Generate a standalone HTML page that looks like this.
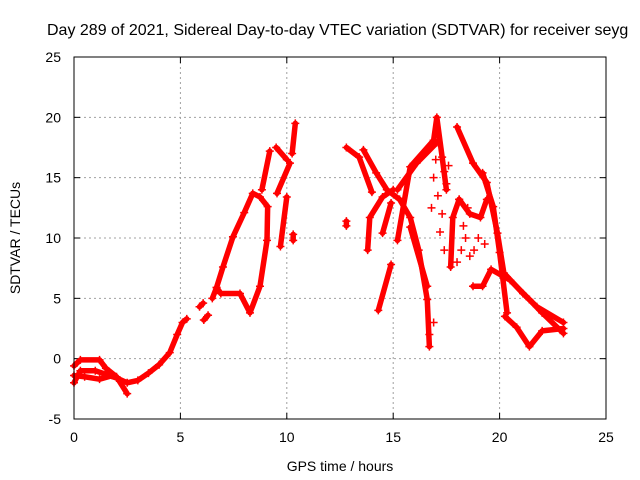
<!DOCTYPE html>
<html><head><meta charset="utf-8"><style>
body{margin:0;background:#fff;overflow:hidden;}
svg{display:block;font-family:"Liberation Sans",sans-serif;}
</style></head><body>
<svg id="chart" width="640" height="480">
<text x="47" y="35" font-size="16">Day 289 of 2021, Sidereal Day-to-day VTEC variation (SDTVAR) for receiver seyg</text>
<text x="340" y="471" font-size="14" text-anchor="middle">GPS time / hours</text>
<text transform="translate(20,238) rotate(-90)" font-size="14" text-anchor="middle">SDTVAR / TECUs</text>
<g id="grid"></g><g id="ticks"></g><g id="marks"></g>
<rect x="74" y="57" width="532" height="362" fill="none" stroke="#000" stroke-width="1"/>
</svg>
<script>
const xTicks=[0,5,10,15,20,25];
const yTicks=[-5,0,5,10,15,20,25];
const tracks=[
[[0,-2],[0.3,-1],[1,-1],[1.5,-1.3],[2,-1.6],[2.5,-2],[3,-1.8],[3.5,-1.2],[4,-0.5],[4.5,0.5],[4.85,2],[5.1,3],[5.3,3.3]],
[[0,-0.6],[0.3,-0.1],[1.2,-0.1],[1.5,-0.8],[2,-1.5],[2.5,-2.9]],
[[0,-1.4],[0.5,-1.5],[1.2,-1.7],[1.8,-1.4]],
[[5.9,4.3],[6.07,4.6]],[[6.1,3.2],[6.3,3.6]],
[[6.5,5],[6.7,5.9],[6.9,5.4],[7.8,5.4],[8.27,3.8],[8.74,6],[9.07,9.8],[9.1,12.6],[8.74,13.4],[8.4,13.7],[8.0,12.1],[7.47,10.1],[7.0,7.6],[6.7,5.9]],
[[8.83,14],[9.2,17.2]],
[[9.54,13.7],[10.15,16.2]],[[9.5,17.5],[10,16.5]],
[[9.7,9.3],[10,13.4]],[[10.4,19.5],[10.25,17]],[[10.3,9.8],[10.3,10.3]],
[[12.8,11],[12.8,11.4]],
[[12.8,17.5],[13.4,16.7],[14,13.8]],
[[13.6,17.3],[14.2,15.4],[14.7,14],[15.3,13.2],[15.8,11.7],[16.2,9],[16.6,4.9],[16.7,1]],
[[13.8,9],[13.9,11.7],[14.5,13.4],[15,14]],
[[14.3,4],[14.9,7.8]],[[14.5,10.4],[14.9,12.9]],
[[15.2,9.8],[15.8,15.9],[16.9,18.1],[17.05,20],[17.3,16.7],[17.5,14]],
[[15.2,14],[16.1,16.2],[17.05,17.9]],
[[15.8,10.9],[16.6,6]],
[[18,19.2],[18.75,16.2],[19.4,14.6],[19.9,10.4],[20.2,7.1],[21.1,5.4],[21.75,4.3],[23,3]],
[[18.1,13.2],[17.8,11.7],[17.7,7.6]],
[[18.1,13.2],[18.6,12],[19.1,11.7],[19.4,13.2]],
[[18.75,6],[19.2,6],[19.6,7.4],[20.5,6.5],[21.4,4.9],[22,3.8],[23,2.1]],
[[20.25,3.5],[20.8,2.6],[21.4,1],[22,2.3],[23,2.5]],
[[19.2,15.4],[19.7,12.6],[20,8.8],[20.35,3.8]]
];
const scatterX=[16.9,17.1,17.3,17.5,17.2,16.8,17.6,17.4,18.2,18.4,18.0,18.6,19.0,19.3,18.3,16.9,16.7,17.0,17.4,18.8,18.5];
const scatterY=[15,13.5,12,14.5,10.5,12.5,16,9,9,10,8,8.5,10,9.5,11,3,2,16.5,15.5,9,12.5];
const X=v=>74+v*532/25, Y=v=>419-(v+5)*362/30;
const NS="http://www.w3.org/2000/svg";
const grid=document.getElementById('grid'),ticks=document.getElementById('ticks'),marks=document.getElementById('marks');
function mk(t,a,p){const e=document.createElementNS(NS,t);for(const k in a)e.setAttribute(k,a[k]);p.appendChild(e);return e;}
xTicks.forEach(v=>{const x=X(v);
 if(v>0&&v<25){const g=mk('line',{x1:x,x2:x,y1:57,y2:419,stroke:'#a0a0a0','stroke-dasharray':'2,3'},grid);
 
 }
 mk('line',{x1:x,x2:x,y1:419,y2:413,stroke:'#000'},ticks);mk('line',{x1:x,x2:x,y1:57,y2:63,stroke:'#000'},ticks);
 const t=mk('text',{x:x,y:442,'font-size':14,'text-anchor':'middle'},ticks);t.textContent=v;
 
 });
yTicks.forEach(v=>{const y=Y(v);
 if(v>-5&&v<25){const g=mk('line',{x1:74,x2:606,y1:y,y2:y,stroke:'#a0a0a0','stroke-dasharray':'2,3'},grid);
 
 }
 mk('line',{x1:74,x2:80,y1:y,y2:y,stroke:'#000'},ticks);mk('line',{x1:606,x2:600,y1:y,y2:y,stroke:'#000'},ticks);
 const t=mk('text',{x:61,y:y+5,'font-size':14,'text-anchor':'end'},ticks);t.textContent=v;
 
 });
function plus(x,y,p){mk('path',{d:`M${x-4},${y}H${x+4}M${x},${y-4}V${y+4}`,stroke:'#f00','stroke-width':1.5},p);}
tracks.forEach(tr=>{
 const g=mk('g',{},marks);
 
 
 mk('polyline',{points:tr.map(p=>X(p[0])+','+Y(p[1])).join(' '),fill:'none',stroke:'#f00','stroke-width':5.5,'stroke-linejoin':'round','stroke-linecap':'round'},g);
 tr.forEach(p=>plus(X(p[0]),Y(p[1]),g));
});
scatterX.forEach((v,i)=>{const g=mk('g',{},marks);
 
 
 plus(X(v),Y(scatterY[i]),g);});
</script>
</body></html>
